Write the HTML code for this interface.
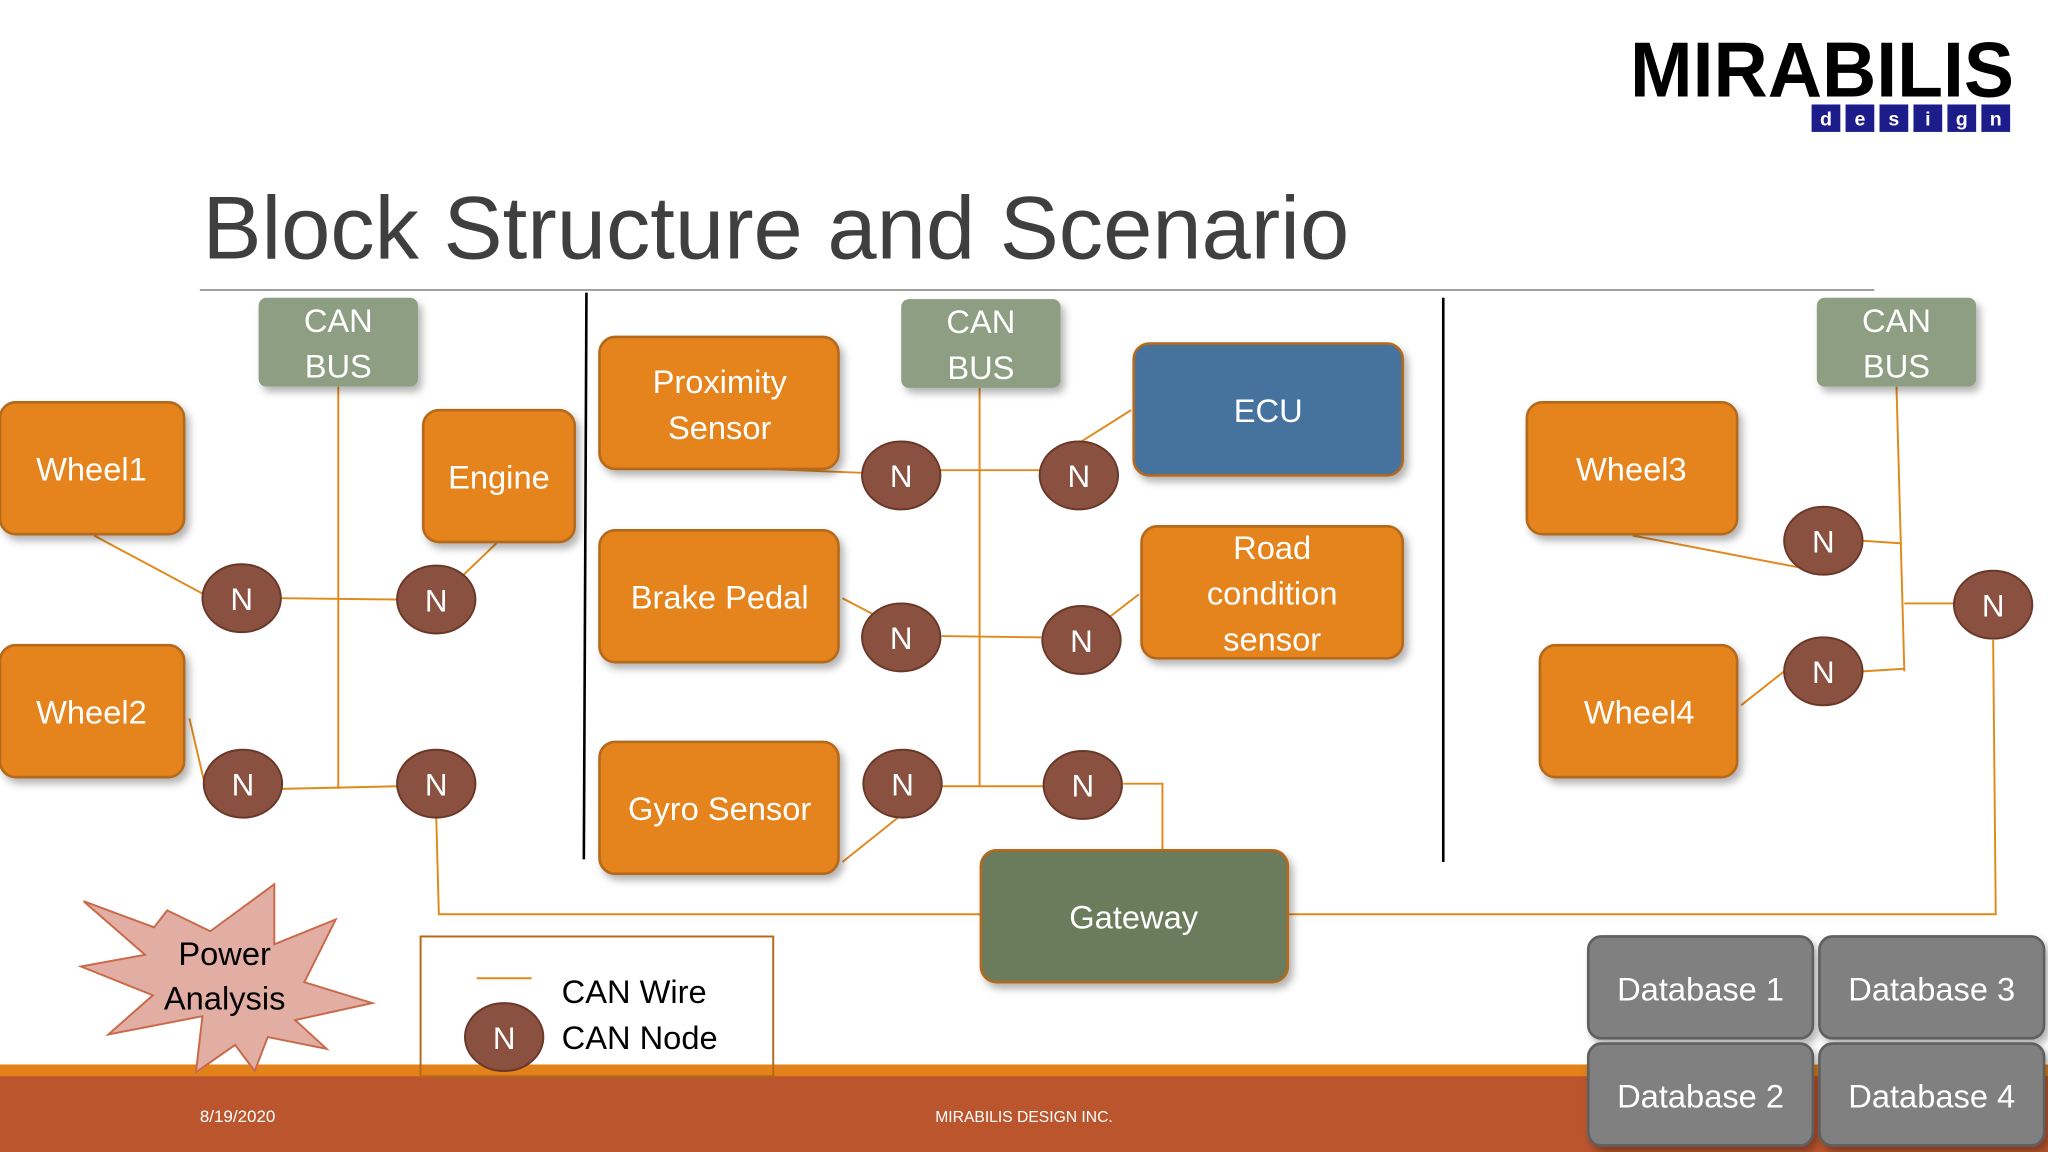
<!DOCTYPE html>
<html><head><meta charset="utf-8"><style>
html,body{margin:0;padding:0;background:#fff;}
svg{display:block;font-family:"Liberation Sans",sans-serif;}
</style></head><body>
<svg width="2048" height="1152" viewBox="0 0 1568 882" xmlns="http://www.w3.org/2000/svg">
<defs>
<filter id="sh" x="-10%" y="-10%" width="130%" height="140%"><feDropShadow dx="3" dy="4" stdDeviation="3" flood-color="#000" flood-opacity="0.3"/></filter>
</defs>
<rect width="1568" height="882" fill="#fff"/>
<!-- footer -->
<rect x="0" y="815" width="1568" height="10" fill="#E3821A"/>
<rect x="0" y="824" width="1568" height="58" fill="#BA552E"/>
<text x="153" y="859" font-size="13" fill="#fff">8/19/2020</text>
<text x="784" y="859" font-size="12" fill="#fff" text-anchor="middle">MIRABILIS DESIGN INC.</text>
<!-- logo -->
<text x="1248" y="74" font-size="60" font-weight="bold" fill="#000" textLength="294" lengthAdjust="spacingAndGlyphs">MIRABILIS</text>
<g font-size="15" font-weight="bold" fill="#fff" text-anchor="middle">
<rect x="1387" y="80" width="22" height="21" fill="#1C1C8A"/><text x="1398" y="96">d</text>
<rect x="1413" y="80" width="22" height="21" fill="#1C1C8A"/><text x="1424" y="96">e</text>
<rect x="1439" y="80" width="22" height="21" fill="#1C1C8A"/><text x="1450" y="96">s</text>
<rect x="1465" y="80" width="22" height="21" fill="#1C1C8A"/><text x="1476" y="96">i</text>
<rect x="1491" y="80" width="22" height="21" fill="#1C1C8A"/><text x="1502" y="96">g</text>
<rect x="1517" y="80" width="22" height="21" fill="#1C1C8A"/><text x="1528" y="96">n</text>
</g>
<!-- title -->
<text x="155" y="198" font-size="68" fill="#3F3F3F" textLength="878" lengthAdjust="spacingAndGlyphs">Block Structure and Scenario</text>
<line x1="153" y1="222" x2="1435" y2="222" stroke="#A0A0A0" stroke-width="1.5"/>
<line x1="449" y1="224" x2="447" y2="658" stroke="#000" stroke-width="2"/>
<line x1="1105" y1="228" x2="1105" y2="660" stroke="#000" stroke-width="2"/>
<!-- wires -->
<g stroke="#E08A1E" stroke-width="1.5" fill="none">
<line x1="259" y1="296" x2="259" y2="604"/>
<line x1="72" y1="410" x2="156" y2="455"/>
<line x1="215" y1="458" x2="304" y2="459"/>
<line x1="380" y1="416" x2="355" y2="440"/>
<line x1="145" y1="550" x2="156" y2="597"/>
<line x1="216" y1="604" x2="304" y2="602"/>
<polyline points="334,626 336,700 751,700"/>
<polyline points="986,700 1528,700 1526,490"/>
<line x1="750" y1="297" x2="750" y2="602"/>
<line x1="560" y1="358" x2="660" y2="362"/>
<line x1="720" y1="360" x2="796" y2="360"/>
<line x1="866" y1="314" x2="828" y2="338"/>
<line x1="645" y1="458" x2="668" y2="470"/>
<line x1="721" y1="487" x2="797" y2="488"/>
<line x1="872" y1="455" x2="850" y2="472"/>
<line x1="645" y1="660" x2="690" y2="624"/>
<line x1="721" y1="602" x2="799" y2="602"/>
<polyline points="860,600 890,600 890,651"/>
<line x1="1452" y1="296" x2="1458" y2="514"/>
<line x1="1250" y1="410" x2="1396" y2="438"/>
<line x1="1426" y1="414" x2="1456" y2="416"/>
<line x1="1333" y1="540" x2="1366" y2="514"/>
<line x1="1426" y1="514" x2="1458" y2="512"/>
<line x1="1458" y1="462" x2="1496" y2="462"/>
<line x1="365" y1="749" x2="407" y2="749"/>
</g>
<!-- CAN BUS -->
<g fill="#8E9E83" filter="url(#sh)">
<rect x="198" y="228" width="122" height="68" rx="6"/>
<rect x="690" y="229" width="122" height="68" rx="6"/>
<rect x="1391" y="228" width="122" height="68" rx="6"/>
</g>
<g font-size="25" fill="#fff" text-anchor="middle">
<text x="259" y="254">CAN</text><text x="259" y="289">BUS</text>
<text x="751" y="255">CAN</text><text x="751" y="290">BUS</text>
<text x="1452" y="254">CAN</text><text x="1452" y="289">BUS</text>
</g>
<!-- orange boxes -->
<g fill="#E5831A" stroke="#B4691A" stroke-width="2" filter="url(#sh)">
<rect x="0" y="308" width="141" height="101" rx="12"/>
<rect x="324" y="314" width="116" height="101" rx="12"/>
<rect x="0" y="494" width="141" height="101" rx="12"/>
<rect x="459" y="258" width="183" height="101" rx="12"/>
<rect x="459" y="406" width="183" height="101" rx="12"/>
<rect x="459" y="568" width="183" height="101" rx="12"/>
<rect x="874" y="403" width="200" height="101" rx="12"/>
<rect x="1169" y="308" width="161" height="101" rx="12"/>
<rect x="1179" y="494" width="151" height="101" rx="12"/>
</g>
<rect x="868" y="263" width="206" height="101" rx="12" fill="#44739E" stroke="#B4691A" stroke-width="2" filter="url(#sh)"/>
<rect x="751" y="651" width="235" height="101" rx="12" fill="#6B7B5B" stroke="#B4691A" stroke-width="2" filter="url(#sh)"/>
<g font-size="25" fill="#fff" text-anchor="middle">
<text x="70" y="368">Wheel1</text>
<text x="382" y="374">Engine</text>
<text x="70" y="554">Wheel2</text>
<text x="551" y="301">Proximity</text><text x="551" y="336">Sensor</text>
<text x="551" y="466">Brake Pedal</text>
<text x="551" y="628">Gyro Sensor</text>
<text x="971" y="323">ECU</text>
<text x="974" y="428">Road</text><text x="974" y="463">condition</text><text x="974" y="498">sensor</text>
<text x="1249" y="368">Wheel3</text>
<text x="1255" y="554">Wheel4</text>
<text x="868" y="711">Gateway</text>
</g>
<!-- databases -->
<g fill="#808080" stroke="#5E5E5E" stroke-width="2" filter="url(#sh)">
<rect x="1216" y="717" width="172" height="78" rx="10"/>
<rect x="1393" y="717" width="172" height="78" rx="10"/>
<rect x="1216" y="799" width="172" height="78" rx="10"/>
<rect x="1393" y="799" width="172" height="78" rx="10"/>
</g>
<g font-size="25" fill="#fff" text-anchor="middle">
<text x="1302" y="766">Database 1</text>
<text x="1479" y="766">Database 3</text>
<text x="1302" y="848">Database 2</text>
<text x="1479" y="848">Database 4</text>
</g>
<!-- nodes -->
<g fill="#8A5040" stroke="#6A3828" stroke-width="1.5">
<ellipse cx="185" cy="458" rx="30" ry="26"/><ellipse cx="334" cy="459" rx="30" ry="26"/>
<ellipse cx="186" cy="600" rx="30" ry="26"/><ellipse cx="334" cy="600" rx="30" ry="26"/>
<ellipse cx="690" cy="364" rx="30" ry="26"/><ellipse cx="826" cy="364" rx="30" ry="26"/>
<ellipse cx="690" cy="488" rx="30" ry="26"/><ellipse cx="828" cy="490" rx="30" ry="26"/>
<ellipse cx="691" cy="600" rx="30" ry="26"/><ellipse cx="829" cy="601" rx="30" ry="26"/>
<ellipse cx="1396" cy="414" rx="30" ry="26"/><ellipse cx="1396" cy="514" rx="30" ry="26"/>
<ellipse cx="1526" cy="463" rx="30" ry="26"/><ellipse cx="386" cy="794" rx="30" ry="26"/>
</g>
<g font-size="24" fill="#fff" text-anchor="middle">
<text x="185" y="467">N</text><text x="334" y="468">N</text>
<text x="186" y="609">N</text><text x="334" y="609">N</text>
<text x="690" y="373">N</text><text x="826" y="373">N</text>
<text x="690" y="497">N</text><text x="828" y="499">N</text>
<text x="691" y="609">N</text><text x="829" y="610">N</text>
<text x="1396" y="423">N</text><text x="1396" y="523">N</text>
<text x="1526" y="472">N</text><text x="386" y="803">N</text>
</g>
<!-- legend -->
<rect x="322" y="717" width="270" height="107" fill="none" stroke="#B8681A" stroke-width="1.5"/>
<text x="430" y="768" font-size="25" fill="#000">CAN Wire</text>
<text x="430" y="803" font-size="25" fill="#000">CAN Node</text>
<!-- starburst -->
<polygon points="161,713 210,677 210,723 257,704 233,752 285,768 226,781 250,803 205,794 195,820 180,800 150,821 155,778 83,792 117,762 62,740 111,731 64,690 118,710 128,697" fill="#E2ADA2" stroke="#C86A4A" stroke-width="1.5"/>
<text x="172" y="739" font-size="25" fill="#000" text-anchor="middle">Power</text>
<text x="172" y="773" font-size="25" fill="#000" text-anchor="middle">Analysis</text>
</svg>
</body></html>
